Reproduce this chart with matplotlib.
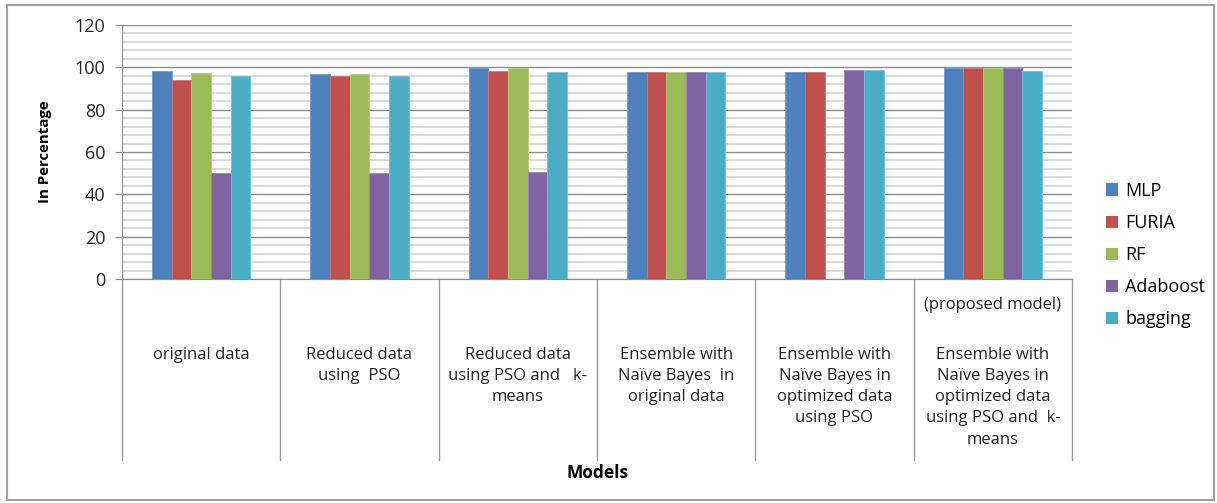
import matplotlib
matplotlib.use("Agg")
import matplotlib.pyplot as plt
import numpy as np
from matplotlib.patches import Rectangle

plt.rcParams['font.family'] = ['Open Sans', 'DejaVu Sans']

categories = [
    "original data",
    "Reduced data\nusing  PSO",
    "Reduced data\nusing PSO and   k-\nmeans",
    "Ensemble with\nNaïve Bayes  in\noriginal data",
    "Ensemble with\nNaïve Bayes in\noptimized data\nusing PSO",
    "Ensemble with\nNaïve Bayes in\noptimized data\nusing PSO and  k-\nmeans",
]
note_label = "(proposed model)"
series_names = ["MLP", "FURIA", "RF", "Adaboost", "bagging"]
mlp = [98.4, 96.8, 99.8, 98.0, 98.0, 99.7]
furia = [94.0, 95.7, 98.3, 98.0, 98.0, 99.7]
rf = [97.3, 96.8, 99.5, 97.6, 0.0, 99.7]
adaboost = [50.2, 50.2, 50.4, 97.6, 98.7, 99.7]
bagging = [95.7, 95.7, 97.6, 98.0, 98.7, 98.4]
yticks = [0, 20, 40, 60, 80, 100, 120]

colors = ["#4F81BD", "#C0504D", "#9BBB59", "#8064A2", "#4BACC6"]
edges = ["#6f9bd0", "#d27370", "#b2cf7a", "#9985bb", "#74c4da"]

W, H = 1217, 503
fig = plt.figure(figsize=(W / 100, H / 100), dpi=100)
ax = fig.add_axes([122 / W, (H - 279) / H, (1072 - 122) / W, (279 - 25) / H])

x = np.arange(len(categories))
bw = 0.124
all_series = [mlp, furia, rf, adaboost, bagging]
for k, (vals, name) in enumerate(zip(all_series, series_names)):
    ax.bar(x + (k - 2) * bw, vals, width=bw, color=colors[k], edgecolor=edges[k],
           linewidth=0.6, label=name, zorder=3)

ax.set_xlim(-0.5, len(categories) - 0.5)
ax.set_ylim(0, 120)
ax.set_yticks(yticks)
ax.set_yticks(np.arange(0, 121, 4), minor=True)
ax.yaxis.grid(True, which='minor', color='#cfcfcf', lw=1.1, zorder=0)
ax.yaxis.grid(True, which='major', color='#8c8c8c', lw=1.0, zorder=1)
ax.tick_params(axis='y', which='major', length=5, color='#8c8c8c', labelsize=13,
               pad=7, labelcolor='#222222')
ax.tick_params(axis='y', which='minor', length=0)
ax.set_xticks([])
for s in ['top', 'right']:
    ax.spines[s].set_visible(False)
ax.spines['left'].set_color('#8c8c8c')
ax.spines['bottom'].set_color('#8c8c8c')

# category separators running through the label area
tr = ax.get_xaxis_transform()
depth = -(460 - 279) / (279 - 25)
for b in np.arange(-0.5, len(categories), 1.0):
    ax.plot([b, b], [0, depth], transform=tr, color='#9a9a9a', lw=1.0, clip_on=False)

# category labels
px = 1 / (279 - 25)
for i, lab in enumerate(categories):
    ax.text(i, -(347 - 279) * px, lab, transform=tr, ha='center', va='top',
            fontsize=12, linespacing=1.43, color='#222222')
ax.text(5, -(297 - 279) * px, note_label, transform=tr, ha='center', va='top',
        fontsize=12, color='#222222')

fig.text(597 / W, 1 - 473 / H, "Models", ha='center', va='center',
         fontsize=12.5, fontweight='bold')
fig.text(45 / W, 1 - 152 / H, "In Percentage", ha='center', va='center',
         rotation=90, fontsize=10.8, fontweight='bold')

leg = fig.legend(loc='center left', bbox_to_anchor=(1090 / W, 1 - 255 / H),
                 frameon=False, fontsize=13, handlelength=0.65, handleheight=0.65,
                 handletextpad=0.4, labelspacing=0.78)
for h in leg.legend_handles:
    h.set_edgecolor('none')

fig.add_artist(Rectangle((7 / W, 3 / H), (1214 - 7) / W, (498 - 3) / H,
                         transform=fig.transFigure, fill=False,
                         edgecolor='#a0a0a0', lw=1.5))

fig.savefig("out.png", dpi=100)
